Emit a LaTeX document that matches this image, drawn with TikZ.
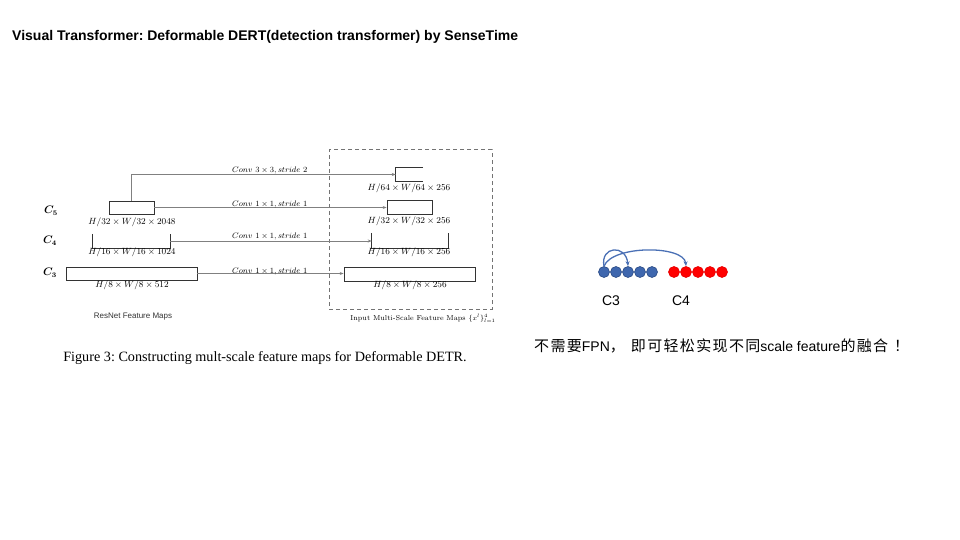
\documentclass[tikz,border=0pt]{standalone}
\usepackage{fontspec}
\usepackage{amsmath,bm}
\newfontfamily\arial{Liberation Sans}
\newfontfamily\cjk[LetterSpace=9]{Noto Sans CJK SC}
\newfontfamily\tnr{Liberation Serif}
\usetikzlibrary{arrows.meta}
\definecolor{dotblue}{HTML}{3F67AE}
\definecolor{dotblueline}{HTML}{2C4C85}
\definecolor{arcblue}{HTML}{4A70B5}
\frenchspacing
\begin{document}
\begin{tikzpicture}[x=1pt,y=-1pt,
  fmap/.style={draw=black!80, line width=0.7pt, rectangle, inner sep=0pt},
  openmap/.style={rectangle, inner sep=0pt},
  conv/.style={draw=black!50, line width=0.9pt, -{Stealth[length=4pt,width=3pt]}},
  dimlab/.style={font=\fontsize{9.5}{11}\selectfont, inner sep=0pt},
  convlab/.style={font=\fontsize{8}{9}\selectfont, inner sep=0pt, anchor=base west},
  clab/.style={font=\fontsize{10.5}{12}\selectfont, inner sep=0pt},
  bdot/.style={circle, fill=dotblue, draw=dotblueline, line width=0.6pt, minimum size=11pt, inner sep=0pt},
  rdot/.style={circle, fill=red, draw=red!90!black, line width=0.6pt, minimum size=11pt, inner sep=0pt},
  arc/.style={draw=arcblue, line width=1.3pt, -{Stealth[length=5pt,width=4pt]}},
]
\useasboundingbox (0,0) rectangle (960,540);

% title
\node[anchor=west, inner sep=0pt, font=\arial\bfseries\fontsize{14}{16}\selectfont] (title) at (12,37)
  {Visual Transformer: Deformable DERT(detection transformer) by SenseTime};

% ResNet feature maps
\node[fmap, minimum width=45pt, minimum height=13pt] (c5) at (131.5,207.5) {};
\node[openmap, minimum width=77pt, minimum height=14pt] (c4) at (131.5,241) {};
\draw[black!80, line width=0.7pt] (c4.north west) -- (c4.south west) -- (c4.south east) -- (c4.north east);
\node[fmap, minimum width=131pt, minimum height=13pt] (c3) at (131.5,273.5) {};

\node[clab] (lc5) at (51,211) {$\bm{C_5}$};
\node[clab] (lc4) at (50,241) {$\bm{C_4}$};
\node[clab] (lc3) at (50,273) {$\bm{C_3}$};

\node[dimlab] (d5) at (132,222) {$H/32\times W/32\times 2048$};
\node[dimlab] (d4) at (132,252) {$H/16\times W/16\times 1024$};
\node[dimlab] (d3) at (132,285) {$H/8\times W/8\times 512$};

% output feature maps
\node[openmap, minimum width=27pt, minimum height=13pt] (p6) at (409.5,174.5) {};
\draw[black!80, line width=0.7pt] (p6.north east) -- (p6.north west) -- (p6.south west) -- (p6.south east);
\node[fmap, minimum width=45pt, minimum height=14pt] (p5) at (409.5,207) {};
\node[openmap, minimum width=76pt, minimum height=15pt] (p4) at (410,240.5) {};
\draw[black!80, line width=0.7pt] (p4.north west) -- (p4.south west) -- (p4.south east) -- (p4.north east);
\node[fmap, minimum width=131pt, minimum height=14pt] (p3) at (409.5,274) {};

\node[dimlab] (e6) at (409,188) {$H/64\times W/64\times 256$};
\node[dimlab] (e5) at (409,221) {$H/32\times W/32\times 256$};
\node[dimlab] (e4) at (409,252) {$H/16\times W/16\times 256$};
\node[dimlab] (e3) at (410,285) {$H/8\times W/8\times 256$};

% dashed frame
\node[draw=black!55, dashed, line width=1pt, dash pattern=on 4pt off 3pt, rectangle, inner sep=0pt,
  minimum width=163pt, minimum height=159pt] (frame) at (410.5,229.5) {};

% connectors
\draw[conv] (c5.north) |- (p6.west);
\draw[conv] (c5.east) -- (c5.east -| p5.west);
\draw[conv] (c4.east) -- (c4.east -| p4.west);
\draw[conv] (c3.east) -- (c3.east -| p3.west);

\node[convlab] (k6) at (232,172) {$Conv\ 3\times 3, stride\ 2$};
\node[convlab] (k5) at (232,206) {$Conv\ 1\times 1, stride\ 1$};
\node[convlab] (k4) at (232,238) {$Conv\ 1\times 1, stride\ 1$};
\node[convlab] (k3) at (232,273) {$Conv\ 1\times 1, stride\ 1$};

\node[inner sep=0pt, font=\arial\fontsize{8}{10}\selectfont, text=black!80] (rn) at (133,317) {ResNet Feature Maps};
\node[inner sep=0pt, font=\fontsize{7.2}{9}\selectfont] (im) at (423,318) {Input Multi-Scale Feature Maps $\{x^l\}_{l=1}^{4}$};

\node[inner sep=0pt, font=\tnr\fontsize{14.2}{16}\selectfont] (cap) at (265,358)
  {Figure 3: Constructing mult-scale feature maps for Deformable DETR.};

% dots
\foreach \i/\x in {1/604,2/616,3/628,4/640,5/652} {
  \node[bdot] (b\i) at (\x,272) {};
}
\foreach \i/\x in {1/674,2/686,3/698,4/710,5/722} {
  \node[rdot] (r\i) at (\x,272) {};
}
\draw[arc] (b1.north) .. controls (600,246) and (626,244) .. (b3.north);
\draw[arc] (b1.north) .. controls (612,245) and (684,245) .. (r2.north);

\node[inner sep=0pt, font=\arial\fontsize{14}{16}\selectfont] (lC3) at (611,301) {C3};
\node[inner sep=0pt, font=\arial\fontsize{14}{16}\selectfont] (lC4) at (681,301) {C4};

\node[anchor=west, inner sep=0pt, font=\fontsize{15}{17}\selectfont] (note) at (534,346)
  {{\cjk 不需要}{\arial\fontsize{14}{17}\selectfont FPN}{\cjk ，}\hspace{6pt}{\cjk 即可轻松实现不同}{\arial\fontsize{14}{17}\selectfont scale feature}{\cjk 的融合}\hspace{6pt}{\cjk ！}};
\end{tikzpicture}
\end{document}
